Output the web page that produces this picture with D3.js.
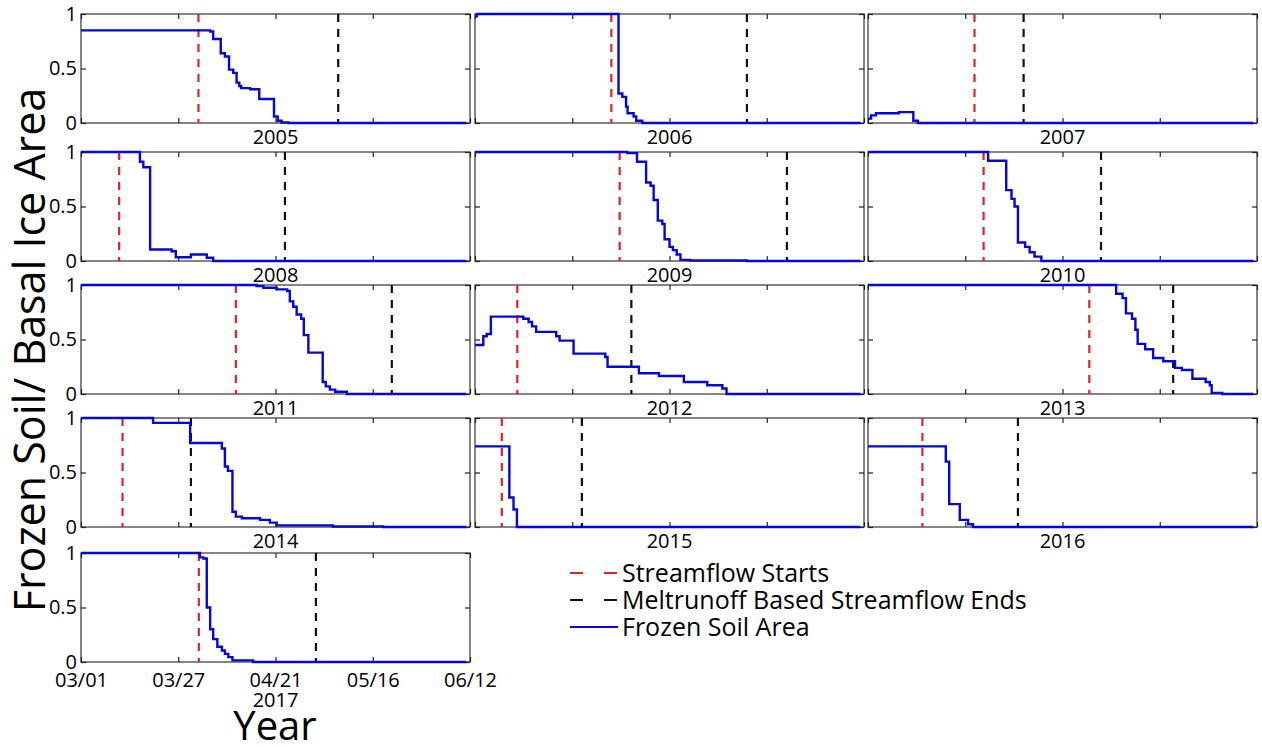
<!DOCTYPE html>
<html>
<head>
<meta charset="utf-8">
<script src="https://cdn.jsdelivr.net/npm/d3@7"></script>
<style>
  body { margin: 0; background: #fff; }
  text { font-family: "Open Sans", sans-serif; fill: #000; }
</style>
</head>
<body>
<svg id="chart" width="1262" height="747"></svg>
<script>
// days counted from 03/01, frozen area fraction holds until the next step
const years = [2005, 2006, 2007, 2008, 2009, 2010, 2011, 2012, 2013, 2014, 2015, 2016, 2017];
const streamflowStart = [31.1, 36.1, 28.2, 10.1, 38.3, 30.6, 41.0, 11.2, 58.6, 11.0, 7.1, 14.4, 31.2];
const meltrunoffEnd   = [68.1, 72.0, 41.2, 54.0, 82.6, 61.7, 82.3, 41.4, 80.8, 29.1, 28.3, 39.7, 62.2];

const frozen2005 = [[0,0.85],[34.2,0.84],[35,0.77],[37,0.64],[38.1,0.61],[39.2,0.49],[40.3,0.46],[41.2,0.37],[41.9,0.34],[42.4,0.32],[44.8,0.31],[47.2,0.22],[51.1,0.06],[52.1,0.02],[53.1,0.005],[55,0],[102,0]];
const frozen2006 = [[0,0.98],[0.5,1],[38,0.27],[39,0.24],[40,0.15],[40.4,0.09],[42,0.06],[42.7,0.02],[44.3,0],[102,0]];
const frozen2007 = [[0,0.04],[0.8,0.07],[2.1,0.09],[8.2,0.1],[12,0.02],[13.2,0],[102,0]];
const frozen2008 = [[0,1],[15.6,0.91],[16.5,0.86],[18.3,0.105],[24,0.09],[25.1,0.034],[29.1,0.06],[33.3,0.03],[35,0],[102,0]];
const frozen2009 = [[0,1],[40.3,0.99],[42.9,0.91],[45.3,0.72],[46.5,0.69],[47.3,0.56],[48.4,0.37],[49.6,0.34],[50.2,0.2],[51.5,0.13],[52.4,0.1],[53.4,0.06],[54.4,0.01],[57,0.005],[72,0],[102,0]];
const frozen2010 = [[0,1],[31.8,0.92],[36.6,0.65],[38,0.57],[38.8,0.5],[39.7,0.17],[41.6,0.13],[42.8,0.08],[44.1,0.04],[45.9,0],[102,0]];
const frozen2011 = [[0,1],[46.5,0.99],[48.3,0.975],[51.8,0.96],[54.6,0.945],[55.3,0.85],[56.2,0.8],[57.1,0.73],[58.3,0.69],[59,0.54],[60.2,0.38],[64,0.11],[64.8,0.07],[65.9,0.04],[67.3,0.02],[70.4,0],[102,0]];
const frozen2012 = [[0,0.45],[2.2,0.53],[3.1,0.55],[4.2,0.71],[12.8,0.69],[14.2,0.66],[15.1,0.62],[16.2,0.57],[21.5,0.53],[22.4,0.49],[26.1,0.37],[34.5,0.34],[35.1,0.25],[43.4,0.19],[48.7,0.165],[55.3,0.11],[61.5,0.08],[65.5,0.05],[66.6,0],[102,0]];
const frozen2013 = [[0,1],[65.7,0.92],[67.4,0.88],[68.3,0.74],[69.9,0.69],[70.8,0.59],[71.4,0.46],[73.4,0.41],[75.5,0.33],[78.2,0.3],[81.3,0.24],[83.1,0.22],[85.9,0.14],[89.4,0.11],[90.5,0.08],[91,0.01],[93.8,0],[102,0]];
const frozen2014 = [[0,1],[19.1,0.955],[28.9,0.77],[37.3,0.72],[38.1,0.555],[38.9,0.515],[40.1,0.14],[41,0.095],[42.6,0.08],[47.4,0.065],[50,0.04],[51.8,0.015],[66.7,0.005],[80,0],[102,0]];
const frozen2015 = [[0,0.74],[9.1,0.27],[10.2,0.16],[11.1,0],[102,0]];
const frozen2016 = [[0,0.74],[20.6,0.6],[21.5,0.21],[24.3,0.065],[26.5,0.025],[27.8,0],[102,0]];
const frozen2017 = [[0,1],[31.5,0.96],[32.4,0.95],[33.3,0.5],[34.2,0.3],[35,0.21],[36.1,0.14],[37.3,0.105],[38.1,0.075],[39,0.045],[40.1,0.015],[45.6,0],[102,0]];
const frozenSeries = [frozen2005, frozen2006, frozen2007, frozen2008, frozen2009, frozen2010, frozen2011,
                      frozen2012, frozen2013, frozen2014, frozen2015, frozen2016, frozen2017];

const dayTicks = [0, 25.75, 51.5, 77.25, 103];
const dayTickLabels = ["03/01", "03/27", "04/21", "05/16", "06/12"];
const areaTicks = [0, 0.5, 1];
const areaTickLabels = ["0", "0.5", "1"];
const legendLabels = ["Streamflow Starts", "Meltrunoff Based Streamflow Ends", "Frozen Soil Area"];

// layout
const colLeft = [81, 475, 868];
const rowTop = [14, 152, 285, 418, 553];
const panelW = 389, panelH = 109;
const blue = "#0606d6", red = "#e32222", black = "#111";

const svg = d3.select("#chart");

const x = d3.scaleLinear().domain([0, 103]).range([0, panelW]);
const y = d3.scaleLinear().domain([0, 1]).range([panelH, 0]);

const line = d3.line()
    .x(d => x(d[0]))
    .y(d => y(d[1]))
    .curve(d3.curveStepAfter);

years.forEach(function(year, i){
    var col = i % 3, row = Math.floor(i / 3);
    var last = i === years.length - 1;
    var g = svg.append("g")
        .attr("transform", `translate(${colLeft[col]},${rowTop[row]})`);

    // box
    g.append("rect")
        .attr("width", panelW).attr("height", panelH)
        .attr("fill", "none").attr("stroke", "#444").attr("stroke-width", 1.3);

    // inward ticks on all four sides
    g.append("g").attr("transform", `translate(0,${panelH})`)
        .call(d3.axisBottom(x).tickValues(dayTicks).tickSize(-5).tickPadding(11)
            .tickFormat((d, k) => last ? dayTickLabels[k] : ""));
    g.append("g")
        .call(d3.axisTop(x).tickValues(dayTicks).tickSize(-5).tickFormat(""));
    g.append("g")
        .call(d3.axisLeft(y).tickValues(areaTicks).tickSize(-5).tickPadding(4)
            .tickFormat((d, k) => col === 0 ? areaTickLabels[k] : ""));
    g.append("g").attr("transform", `translate(${panelW},0)`)
        .call(d3.axisRight(y).tickValues(areaTicks).tickSize(-5).tickFormat(""));

    g.selectAll(".domain").remove();
    g.selectAll(".tick line").attr("stroke", "#222").attr("stroke-width", 1.2);
    g.selectAll(".tick text").style("font-size", "20px").attr("fill", "#000");

    // event lines
    g.append("line")
        .attr("x1", x(streamflowStart[i])).attr("x2", x(streamflowStart[i]))
        .attr("y1", 0).attr("y2", panelH)
        .attr("stroke", red).attr("stroke-width", 2.2).attr("stroke-dasharray", "8,7");
    g.append("line")
        .attr("x1", x(meltrunoffEnd[i])).attr("x2", x(meltrunoffEnd[i]))
        .attr("y1", 0).attr("y2", panelH)
        .attr("stroke", black).attr("stroke-width", 2.2).attr("stroke-dasharray", "8,7");

    g.append("path")
        .datum(frozenSeries[i])
        .attr("d", line)
        .attr("fill", "none")
        .attr("stroke", blue)
        .attr("stroke-width", 2.4);

    // year caption
    g.append("text")
        .attr("x", panelW / 2)
        .attr("y", panelH + (last ? 45 : 21))
        .attr("text-anchor", "middle")
        .style("font-size", "20px")
        .text(year);
});

// axis titles
svg.append("text")
    .attr("transform", "translate(45,350) rotate(-90)")
    .attr("text-anchor", "middle")
    .style("font-size", "43px")
    .text("Frozen Soil/ Basal Ice Area");

svg.append("text")
    .attr("x", 275).attr("y", 740)
    .attr("text-anchor", "middle")
    .style("font-size", "40px")
    .text("Year");

// legend
var legendStyles = [
    {stroke: red, dash: "13,21"},
    {stroke: black, dash: "13,21"},
    {stroke: blue, dash: null}
];
var legend = svg.append("g").attr("transform", "translate(570,573)");
legendLabels.forEach(function(label, k){
    var row = legend.append("g").attr("transform", `translate(0,${k * 27})`);
    row.append("line")
        .attr("x1", 0).attr("x2", 48)
        .attr("stroke", legendStyles[k].stroke)
        .attr("stroke-width", 2.2)
        .attr("stroke-dasharray", legendStyles[k].dash);
    row.append("text")
        .attr("x", 52).attr("y", 8.5)
        .style("font-size", "25px")
        .text(label);
});
</script>
</body>
</html>
